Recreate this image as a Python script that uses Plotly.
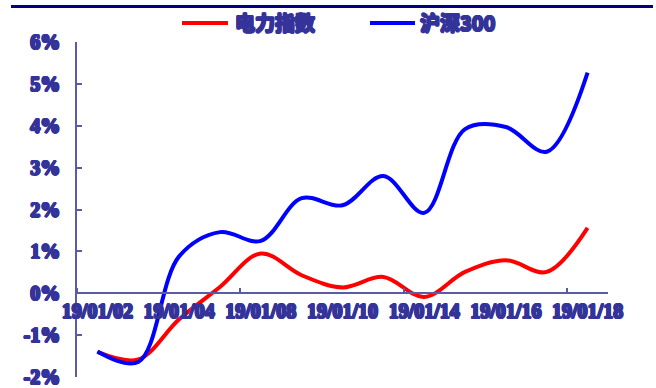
import plotly.graph_objects as go

dates = ["19/01/02", "19/01/03", "19/01/04", "19/01/07", "19/01/08", "19/01/09", "19/01/10",
         "19/01/11", "19/01/14", "19/01/15", "19/01/16", "19/01/17", "19/01/18"]
power_index = [-1.40, -1.58, -0.62, 0.15, 0.95, 0.43, 0.14, 0.39, -0.09, 0.51, 0.79, 0.51, 1.56]
hs300 = [-1.39, -1.64, 0.88, 1.46, 1.25, 2.27, 2.10, 2.80, 1.92, 3.92, 3.97, 3.38, 5.27]
series_names = ["电力指数", "沪深300"]
series_colors = ["#FF0000", "#0000FF"]
y_ticks = [-2, -1, 0, 1, 2, 3, 4, 5, 6]

TXT = "#333399"
AX = "#5a5aa8"
SH = ("1px 0 0 #333399, -1px 0 0 #333399, 0 1px 0 #333399, 0 -1px 0 #333399, "
      "0.7px 0.7px 0 #333399, -0.7px -0.7px 0 #333399, 0.7px -0.7px 0 #333399, -0.7px 0.7px 0 #333399")
num_font = dict(family="Liberation Serif", size=20, color=TXT, weight="bold", shadow=SH)
cjk_font = dict(family="Noto Sans CJK SC", size=20, color=TXT, weight="bold", shadow=SH)

W, H = 656, 388
L, R, T, B = 77, 48, 42, 11
PW, PH = W - L - R, H - T - B


def px_x(p):
    return (p - L) / PW


def px_y(p):
    return (H - B - p) / PH


idx = list(range(len(dates)))

fig = go.Figure()
for name, vals, col in zip(series_names, [power_index, hs300], series_colors):
    fig.add_trace(go.Scatter(x=idx, y=vals, name=name, mode="lines",
                             line=dict(color=col, width=4, shape="spline", smoothing=1.0)))

fig.update_layout(
    width=W, height=H,
    margin=dict(l=L, r=R, t=T, b=B),
    paper_bgcolor="white", plot_bgcolor="white",
    showlegend=False,
    xaxis=dict(
        range=[-0.5, len(dates) - 0.5],
        tickmode="array", tickvals=idx[::2], ticktext=dates[::2],
        ticks="", showgrid=False, zeroline=False,
        showline=True, linecolor=AX, linewidth=1.5,
        anchor="free", position=0.25, automargin=False,
        tickfont=num_font,
        minor=dict(tickmode="array", tickvals=[-0.5, 3.5, 7.5, 11.5], ticks="inside",
                   ticklen=5, tickcolor=AX, tickwidth=1.5, showgrid=False),
    ),
    yaxis=dict(
        range=[-2, 6], tickmode="array", tickvals=y_ticks,
        ticktext=[f"{v}%" for v in y_ticks],
        ticks="inside", ticklen=5, tickcolor=AX, tickwidth=1.5,
        showgrid=False, zeroline=False, automargin=False,
        showline=True, linecolor=AX, linewidth=1.5,
        tickfont=num_font, ticklabelstandoff=11,
    ),
)

# top rule
fig.add_shape(type="line", xref="paper", yref="paper",
              x0=px_x(11), x1=px_x(653), y0=px_y(6.5), y1=px_y(6.5),
              line=dict(color="#000080", width=3))

# legend drawn by hand
leg = [(182, 228, 233), (370, 415, 418)]
for (x0, x1, xt), name, col in zip(leg, series_names, series_colors):
    fig.add_shape(type="line", xref="paper", yref="paper",
                  x0=px_x(x0), x1=px_x(x1), y0=px_y(23), y1=px_y(23),
                  line=dict(color=col, width=4))
    fig.add_annotation(xref="paper", yref="paper", x=px_x(xt), y=px_y(23),
                       xanchor="left", yanchor="middle", text=name, showarrow=False,
                       font=cjk_font)

fig.write_html("out.html")
